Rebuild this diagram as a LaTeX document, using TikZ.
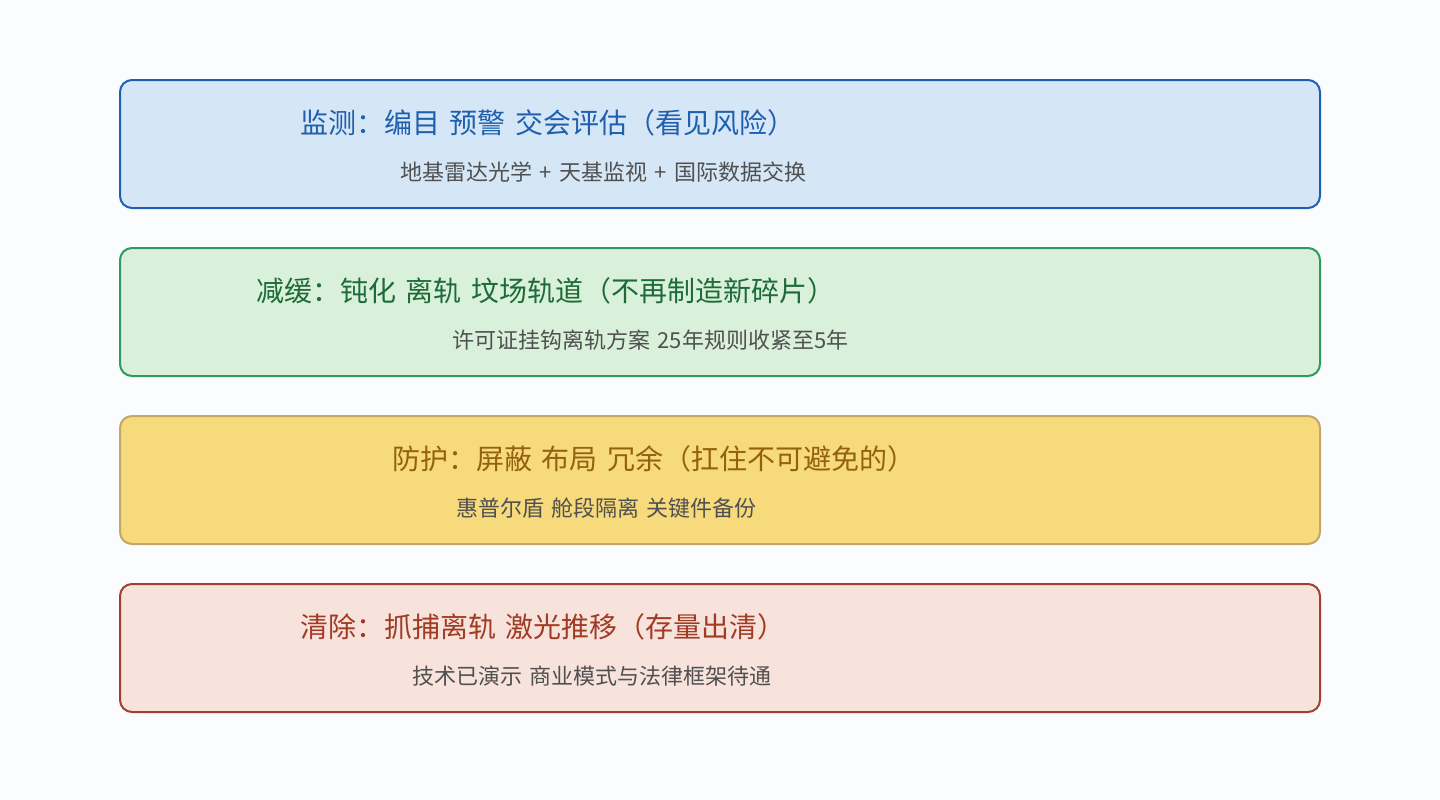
\documentclass[tikz,border=0pt]{standalone}
\usepackage{fontspec}
\setmainfont{Noto Sans CJK SC}
\newfontfamily\cjk[WordSpace=1.5]{Noto Sans CJK SC}
\definecolor{bgc}{HTML}{FBFCFE}
\definecolor{fillA}{HTML}{D5E7F7}\definecolor{lineA}{HTML}{1E5FB4}\definecolor{textA}{HTML}{1F5FAD}
\definecolor{fillB}{HTML}{D9F0DA}\definecolor{lineB}{HTML}{2E9A5C}\definecolor{textB}{HTML}{1D6B38}
\definecolor{fillC}{HTML}{F7DA7B}\definecolor{lineC}{HTML}{C4A66A}\definecolor{textC}{HTML}{94610F}
\definecolor{fillD}{HTML}{F7E2DC}\definecolor{lineD}{HTML}{A0412B}\definecolor{textD}{HTML}{A03B24}
\definecolor{subc}{HTML}{505050}
\tikzset{
  band/.style={rounded corners=12pt, line width=2pt},
  ttl/.style={anchor=west, inner sep=0pt, font=\cjk\fontsize{28}{32}\selectfont},
  sub/.style={anchor=west, inner sep=0pt, text=subc, font=\cjk\fontsize{22}{26}\selectfont},
}
\begin{document}
\begin{tikzpicture}[x=1pt,y=-1pt]
\fill[bgc] (0,0) rectangle (1440,800);
\useasboundingbox (0,0) rectangle (1440,800);
% band 1
\draw[band, fill=fillA, draw=lineA] (120,80) rectangle (1320,208);
\node[ttl, text=textA] (t1) at (300,123) {监测：编目 预警 交会评估（看见风险）};
\node[sub] (s1) at (400,172) {地基雷达光学 + 天基监视 + 国际数据交换};
% band 2
\draw[band, fill=fillB, draw=lineB] (120,248) rectangle (1320,376);
\node[ttl, text=textB] (t2) at (256,291) {减缓：钝化 离轨 坟场轨道（不再制造新碎片）};
\node[sub] (s2) at (452,340) {许可证挂钩离轨方案 25年规则收紧至5年};
% band 3
\draw[band, fill=fillC, draw=lineC] (120,416) rectangle (1320,544);
\node[ttl, text=textC] (t3) at (392,459) {防护：屏蔽 布局 冗余（扛住不可避免的）};
\node[sub] (s3) at (456,508) {惠普尔盾 舱段隔离 关键件备份};
% band 4
\draw[band, fill=fillD, draw=lineD] (120,584) rectangle (1320,712);
\node[ttl, text=textD] (t4) at (300,627) {清除：抓捕离轨 激光推移（存量出清）};
\node[sub] (s4) at (412,676) {技术已演示 商业模式与法律框架待通};
\end{tikzpicture}
\end{document}
